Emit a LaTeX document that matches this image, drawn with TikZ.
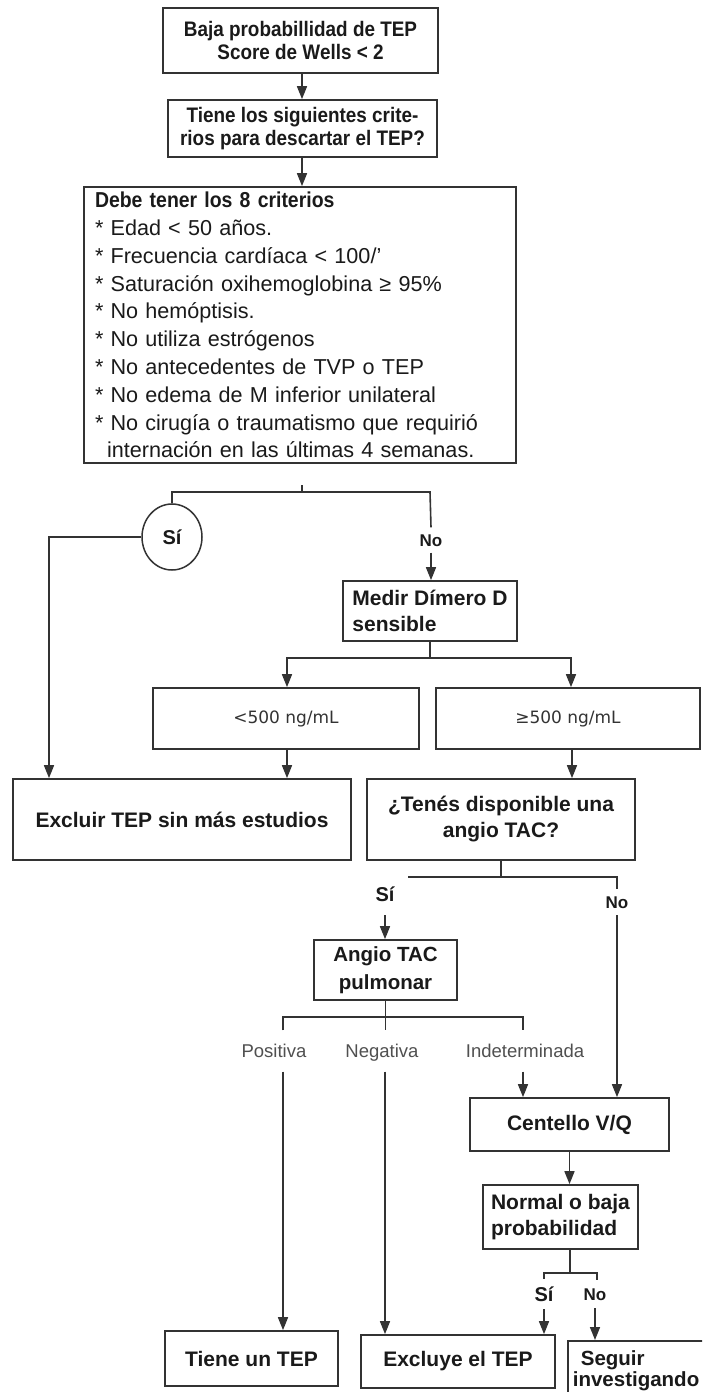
\documentclass[tikz,border=0pt]{standalone}
\usepackage{fontspec}
\setmainfont{Liberation Sans}
\newfontfamily\condfont[FakeStretch=0.9]{Liberation Sans}
\newfontfamily\dvfont{DejaVu Sans}
\usetikzlibrary{arrows.meta,shapes.geometric}
\definecolor{linec}{HTML}{333333}
\definecolor{txtc}{HTML}{1A1A1A}
\definecolor{grayt}{HTML}{505050}
\tikzset{
  box/.style={draw=linec, line width=1.7pt, inner sep=0pt, text=txtc,
    font=\bfseries\fontsize{21}{26}\selectfont, align=center},
  condbox/.style={box, font=\condfont\bfseries\fontsize{21}{23.5}\selectfont},
  dvbox/.style={box, font=\dvfont\fontsize{17}{20}\selectfont, text=linec},
  ln/.style={draw=linec, line width=1.6pt},
  arr/.style={ln, -{Triangle[length=13pt,width=10pt]}},
  lbl/.style={text=txtc, font=\bfseries\fontsize{17}{20}\selectfont, inner xsep=2pt,
    text height=12pt, text depth=0pt},
  silbl/.style={text=txtc, font=\bfseries\fontsize{20}{24}\selectfont, inner xsep=2pt,
    text height=14pt, text depth=0pt},
  glbl/.style={text=grayt, font=\fontsize{18.5}{22}\selectfont, inner xsep=2pt,
    text height=13pt, text depth=0pt}
}
\begin{document}
\begin{tikzpicture}[x=1pt,y=-1pt]
\useasboundingbox (0,0) rectangle (702,1392);
\clip (0,0) rectangle (702,1392);
\fill[white] (0,0) rectangle (702,1392);

% boxes
\node[condbox, minimum width=275pt, minimum height=65pt] (b1) at (300.5,40.5)
  {Baja probabillidad de TEP\\Score de Wells < 2};
\node[condbox, minimum width=269pt, minimum height=57pt] (b2) at (302.5,128.5)
  {Tiene los siguientes crite-\\rios para descartar el TEP?};
\node[box, font=\fontsize{21.6}{27.8}\selectfont, align=left, text width=410pt,
  minimum width=432pt, minimum height=276pt] (b3) at (300,325)
  {{\condfont\bfseries Debe tener los 8 criterios}\\
   {*} Edad < 50 años.\\
   {*} Frecuencia cardíaca < 100/’\\
   {*} Saturación oxihemoglobina ≥ 95\%\\
   {*} No hemóptisis.\\
   {*} No utiliza estrógenos\\
   {*} No antecedentes de TVP o TEP\\
   {*} No edema de M inferior unilateral\\
   {*} No cirugía o traumatismo que requirió\\
   \hspace*{12pt}internación en las últimas 4 semanas.};
\node[ellipse, draw=linec, line width=1.5pt, minimum width=60pt, minimum height=66pt,
  inner sep=0pt, text=txtc, font=\bfseries\fontsize{20}{24}\selectfont] (si) at (172,537) {Sí};
\node[box, align=left, minimum width=174pt, minimum height=60pt] (medir) at (430,611)
  {Medir Dímero D\\sensible};
\node[dvbox, minimum width=266pt, minimum height=61pt] (lt) at (286,718.5) {<500 ng/mL};
\node[dvbox, minimum width=264pt, minimum height=61pt] (ge) at (568,718.5) {≥500 ng/mL};
\node[box, minimum width=338pt, minimum height=81pt] (excl) at (182,819.5)
  {Excluir TEP sin más estudios};
\node[box, minimum width=268pt, minimum height=81pt] (tenes) at (501,819.5)
  {¿Tenés disponible una\\angio TAC?};
\node[box, font=\bfseries\fontsize{20.5}{28}\selectfont, minimum width=143pt, minimum height=60pt] (angio) at (385.5,970)
  {Angio TAC\\pulmonar};
\node[box, minimum width=199pt, minimum height=53pt] (centello) at (569.5,1124.5)
  {Centello V/Q};
\node[box, align=left, minimum width=155pt, minimum height=64pt] (normal) at (560.5,1217)
  {Normal o baja\\probabilidad};
\node[box, minimum width=173pt, minimum height=55pt] (tiene) at (251.5,1358.5)
  {Tiene un TEP};
\node[box, minimum width=194pt, minimum height=53pt] (excluye) at (458,1361.5)
  {Excluye el TEP};
\node[box, anchor=north west, align=left, text width=128pt, inner xsep=5pt,
  minimum height=60pt, font=\bfseries\fontsize{20.5}{21.5}\selectfont] (seg) at (567,1340)
  {\hspace*{8pt}Seguir\\investigando};

% labels
\node[lbl, inner ysep=6.5pt] (no1) at (431,540) {No};
\node[lbl, inner ysep=7pt] (no2) at (617,902) {No};
\node[silbl, inner ysep=14pt] (si2) at (385,894) {Sí};
\node[glbl, inner ysep=14pt] (pos) at (274,1051) {Positiva};
\node[glbl, inner ysep=14pt] (neg) at (382,1051) {Negativa};
\node[glbl, inner ysep=14pt] (ind) at (525,1051) {Indeterminada};
\node[silbl, inner ysep=8pt] (si3) at (544,1294) {Sí};
\node[lbl, inner ysep=8pt] (no3) at (595,1294) {No};

% coordinates
\coordinate (j0) at (302,485);
\coordinate (j1) at (302,492);
\coordinate (jL) at (172,492);
\coordinate (jR) at (430,492);
\coordinate (sL) at (49,537);
\coordinate (m0) at (430,658);
\coordinate (m1) at (287,658);
\coordinate (m2) at (571,658);
\coordinate (gx) at (572,749);
\coordinate (t0) at (501,877);
\coordinate (tL) at (408,877);
\coordinate (tR) at (617,877);
\coordinate (a0) at (385.5,1030);
\coordinate (aL) at (283,1017);
\coordinate (aM) at (385,1017);
\coordinate (aR) at (523,1017);
\coordinate (n0) at (570,1273);
\coordinate (nL) at (544,1273);
\coordinate (nR) at (597,1273);

% connectors
\draw[arr] (b1.south -| j1) -- (b2.north -| j1);
\draw[arr] (b2.south -| j1) -- (b3.north -| j1);
\draw[ln] (j0) -- (j1);
\draw[ln] (si.north) -- (jL) -- (jR) -- (no1.north);
\draw[arr] (no1.south) -- (no1.south |- medir.north);
\draw[arr] (si.west) -| (sL |- excl.north);
\draw[ln] (medir.south) -- (m0);
\draw[arr] (m0) -| (m1 |- lt.north);
\draw[arr] (m0) -| (m2 |- ge.north);
\draw[arr] (lt.south -| m1) -- (excl.north -| m1);
\draw[arr] (ge.south -| gx) -- (tenes.north -| gx);
\draw[ln] (tenes.south) -- (t0);
\draw[ln] (tL) -- (tR) -- (no2.north);
\draw[arr] (no2.south) -- (no2.south |- centello.north);
\draw[arr] (si2.south) -- (si2.south |- angio.north);
\draw[ln] (angio.south) -- (a0);
\draw[ln] (pos.north -| aL) -- (aL) -- (aR) -- (ind.north -| aR);
\draw[arr] (pos.south -| aL) -- (tiene.north -| aL);
\draw[arr] (neg.south -| aM) -- (excluye.north -| aM);
\draw[arr] (ind.south -| aR) -- (centello.north -| aR);
\draw[arr] (centello.south) -- (centello.south |- normal.north);
\draw[ln] (normal.south -| n0) -- (n0);
\draw[ln] (si3.north -| nL) -- (nL) -- (nR) -- (no3.north -| nR);
\draw[arr] (si3.south) -- (si3.south |- excluye.north);
\draw[arr] (no3.south) -- (no3.south |- seg.north);
\end{tikzpicture}
\end{document}
